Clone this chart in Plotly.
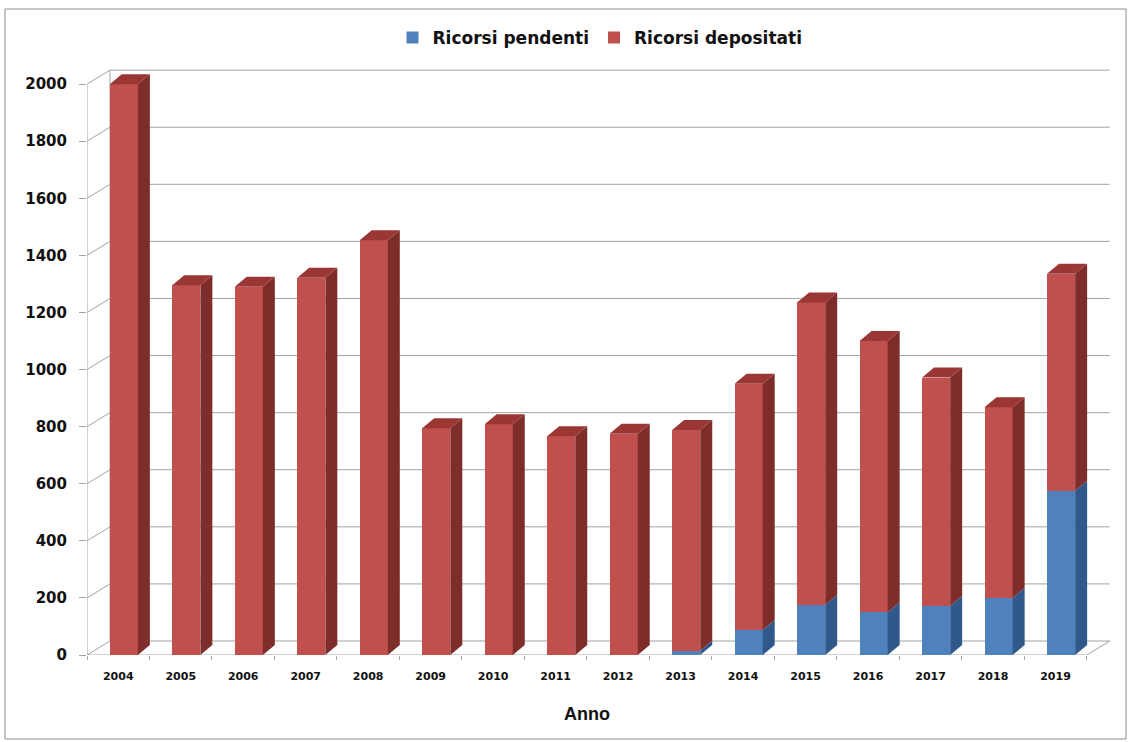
import plotly.graph_objects as go

# Ricorsi per anno
anni = ["2004", "2005", "2006", "2007", "2008", "2009", "2010", "2011",
        "2012", "2013", "2014", "2015", "2016", "2017", "2018", "2019"]
ricorsi_pendenti = [0, 0, 0, 0, 0, 0, 0, 0, 0, 15, 88, 175, 150, 172, 200, 575]
ricorsi_depositati = [2000, 1295, 1290, 1322, 1453, 794, 808, 766, 775, 773,
                      862, 1060, 950, 800, 668, 761]
y_ticks = [0, 200, 400, 600, 800, 1000, 1200, 1400, 1600, 1800, 2000]

W, H = 1129, 742
M_L, M_R, M_T, M_B = 87, 11, 67, 87
X_RANGE = [-0.5, 16.0]
Y_RANGE = [0, 2060]
px_x = (W - M_L - M_R) / (X_RANGE[1] - X_RANGE[0])
px_y = (H - M_T - M_B) / (Y_RANGE[1] - Y_RANGE[0])

# oblique depth of the walls / floor and of each column
WALL_DX, WALL_DY = 23 / px_x, 14 / px_y
BAR_DX, BAR_DY = 12 / px_x, 10 / px_y
BAR_W, BAR_OFF = 0.45, -0.136

RED, RED_SIDE, RED_TOP = "#C0504D", "#7F2D2B", "#9A3633"
BLUE, BLUE_SIDE, BLUE_TOP = "#4F81BD", "#30588A", "#3F6DA3"
GRID = "#a3a3a3"
FONT = "DejaVu Sans"

xs = list(range(len(anni)))

fig = go.Figure()
fig.add_trace(go.Bar(x=xs, y=ricorsi_pendenti, name="Ricorsi pendenti",
                     marker=dict(color=BLUE, line=dict(width=0)),
                     width=BAR_W, offset=BAR_OFF))
fig.add_trace(go.Bar(x=xs, y=ricorsi_depositati, name="Ricorsi depositati",
                     marker=dict(color=RED, line=dict(width=0)),
                     width=BAR_W, offset=BAR_OFF))

shapes = []

def line(x0, y0, x1, y1, color=GRID, width=1, layer="below"):
    shapes.append(dict(type="line", xref="x", yref="y", x0=x0, y0=y0, x1=x1, y1=y1,
                       line=dict(color=color, width=width), layer=layer))

def poly(pts, color):
    path = "M " + " L ".join(f"{px},{py}" for px, py in pts) + " Z"
    shapes.append(dict(type="path", xref="x", yref="y", path=path,
                       fillcolor=color, line=dict(width=0), layer="above"))

left, right = X_RANGE[0], len(anni) - 0.5
# back wall gridlines and side-wall diagonals
for v in y_ticks:
    line(left + WALL_DX, v + WALL_DY, right + WALL_DX, v + WALL_DY)
    line(left, v, left + WALL_DX, v + WALL_DY)
line(left + WALL_DX, WALL_DY, left + WALL_DX, y_ticks[-1] + WALL_DY)
# front value axis and floor edges
line(left, 0, left, y_ticks[-1])
line(left, 0, right, 0)
line(right, 0, right + WALL_DX, WALL_DY)

# side and top faces of each stacked column
for i in xs:
    x0 = i + BAR_OFF
    x1 = x0 + BAR_W
    base = 0
    segs = [(ricorsi_pendenti[i], BLUE_SIDE, BLUE_TOP),
            (ricorsi_depositati[i], RED_SIDE, RED_TOP)]
    top_col = None
    for val, side_c, top_c in segs:
        if val <= 0:
            continue
        y0, y1 = base, base + val
        poly([(x1, y0), (x1 + BAR_DX, y0 + BAR_DY),
              (x1 + BAR_DX, y1 + BAR_DY), (x1, y1)], side_c)
        base = y1
        top_col = top_c
    if top_col:
        poly([(x0, base), (x0 + BAR_DX, base + BAR_DY),
              (x1 + BAR_DX, base + BAR_DY), (x1, base)], top_col)

# outer chart frame
shapes.append(dict(type="rect", xref="paper", yref="paper",
                   x0=(5 - M_L) / (W - M_L - M_R), x1=(1126 - M_L) / (W - M_L - M_R),
                   y0=-(739 - (H - M_B)) / (H - M_T - M_B),
                   y1=((H - M_B) - 9) / (H - M_T - M_B),
                   line=dict(color="#8c8c8c", width=1), layer="below"))

fig.update_layout(
    width=W, height=H,
    margin=dict(l=M_L, r=M_R, t=M_T, b=M_B),
    barmode="stack",
    plot_bgcolor="white", paper_bgcolor="white",
    shapes=shapes,
    showlegend=True,
    legend=dict(orientation="h", x=0.4976, xanchor="center", traceorder="normal",
                y=((H - M_B) - 38) / (H - M_T - M_B), yanchor="middle",
                font=dict(family=FONT, size=17, color="#111111", weight="bold"),
                bgcolor="rgba(0,0,0,0)"),
    xaxis=dict(range=X_RANGE, tickmode="array", tickvals=xs, ticktext=anni,
               showgrid=False, zeroline=False, showline=False, ticks="",
               ticklabelstandoff=13,
               tickfont=dict(family=FONT, size=11, color="#111111", weight="bold"),
               minor=dict(tickmode="array", tickvals=[i - 0.5 for i in range(len(anni) + 1)],
                          ticks="outside", ticklen=4, tickcolor=GRID, showgrid=False)),
    yaxis=dict(range=Y_RANGE, tickmode="array", tickvals=y_ticks,
               showgrid=False, zeroline=False, showline=False,
               ticks="outside", ticklen=7, tickcolor=GRID, ticklabelstandoff=9,
               tickfont=dict(family=FONT, size=15, color="#111111", weight="bold")),
    annotations=[dict(text="Anno", xref="paper", yref="paper",
                      x=(587 - M_L) / (W - M_L - M_R),
                      y=-(714 - (H - M_B)) / (H - M_T - M_B),
                      xanchor="center", yanchor="middle", showarrow=False,
                      font=dict(family="Liberation Sans", size=18, color="#111111",
                                weight="bold"))],
)

fig.write_html("out.html")
